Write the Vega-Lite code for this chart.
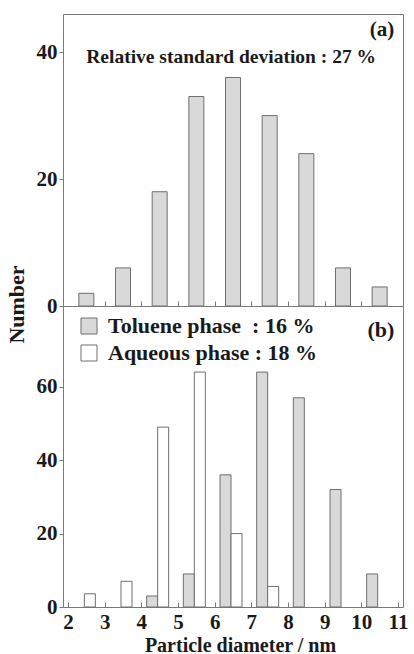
{
  "$schema": "https://vega.github.io/schema/vega-lite/v6.json",
  "background": "white",
  "padding": {"left": 4, "top": 13, "right": 0, "bottom": 0},
  "spacing": 0,
  "bounds": "flush",
  "config": {
    "font": "Liberation Serif",
    "view": {"stroke": "#7a7a7a", "strokeWidth": 1},
    "axis": {
      "labelFont": "Liberation Serif", "labelFontWeight": "bold", "labelFontSize": 21, "labelColor": "#1a1a1a",
      "titleFont": "Liberation Serif", "titleFontWeight": "bold", "titleFontSize": 21, "titleColor": "#1a1a1a",
      "domain": false, "grid": false, "tickColor": "#7a7a7a", "labelFlush": false, "labelOverlap": false
    },
    "legend": {
      "labelFont": "Liberation Serif", "labelFontWeight": "bold", "labelFontSize": 22, "labelColor": "#1a1a1a", "labelLimit": 0
    }
  },
  "vconcat": [
    {
      "width": 340,
      "height": 292,
      "encoding": {
        "x": {"field": "d", "type": "quantitative", "scale": {"domain": [2, 11], "nice": false, "zero": false},
              "axis": {"values": [3, 4, 5, 6, 7, 8, 9, 10], "labels": false, "tickSize": -5, "title": null}},
        "y": {"field": "n", "type": "quantitative", "scale": {"domain": [0, 46], "nice": false},
              "axis": {"values": [0, 20, 40], "tickSize": 4, "labelPadding": 2, "title": "Number", "titleFontSize": 22, "titleY": 290, "titlePadding": 8}}
      },
      "layer": [
        {
          "data": {"values": [
            {"d": 2.5, "n": 2}, {"d": 3.5, "n": 6}, {"d": 4.5, "n": 18}, {"d": 5.5, "n": 33},
            {"d": 6.5, "n": 36}, {"d": 7.5, "n": 30}, {"d": 8.5, "n": 24}, {"d": 9.5, "n": 6}, {"d": 10.5, "n": 3}
          ]},
          "mark": {"type": "bar", "width": 15, "fill": "#d9d9d9", "stroke": "#6f6f6f", "strokeWidth": 1}
        },
        {
          "data": {"values": [{"d": 6.45, "n": 39.3, "label": "Relative standard deviation : 27 %"}]},
          "mark": {"type": "text", "font": "Liberation Serif", "fontWeight": "bold", "fontSize": 19.5, "color": "#1a1a1a", "align": "center", "baseline": "middle"},
          "encoding": {"text": {"field": "label"}}
        },
        {
          "data": {"values": [{"d": 10.9, "n": 43.5, "label": "(a)"}]},
          "mark": {"type": "text", "font": "Liberation Serif", "fontWeight": "bold", "fontSize": 21, "color": "#1a1a1a", "align": "right", "baseline": "middle"},
          "encoding": {"text": {"field": "label"}}
        }
      ]
    },
    {
      "width": 340,
      "height": 301,
      "encoding": {
        "x": {"field": "d", "type": "quantitative", "scale": {"domain": [2, 11], "nice": false, "zero": false},
              "axis": {"values": [2, 3, 4, 5, 6, 7, 8, 9, 10, 11], "tickSize": -5, "labelPadding": 9, "labelDx": -6,
                       "labelOverlap": false, "labelFlush": false, "labelBound": false,
                       "title": "Particle diameter / nm", "titleFontSize": 20, "titleX": 177, "titlePadding": 3}},
        "y": {"field": "n", "type": "quantitative", "scale": {"domain": [0, 82], "nice": false},
              "axis": {"values": [0, 20, 40, 60], "tickSize": 4, "labelPadding": 2, "title": null}}
      },
      "layer": [
        {
          "data": {"values": [
            {"d": 4.5, "phase": "Toluene phase\u00a0\u00a0: 16 %", "n": 3},
            {"d": 5.5, "phase": "Toluene phase\u00a0\u00a0: 16 %", "n": 9},
            {"d": 6.5, "phase": "Toluene phase\u00a0\u00a0: 16 %", "n": 36},
            {"d": 7.5, "phase": "Toluene phase\u00a0\u00a0: 16 %", "n": 64},
            {"d": 8.5, "phase": "Toluene phase\u00a0\u00a0: 16 %", "n": 57},
            {"d": 9.5, "phase": "Toluene phase\u00a0\u00a0: 16 %", "n": 32},
            {"d": 10.5, "phase": "Toluene phase\u00a0\u00a0: 16 %", "n": 9}
          ]},
          "mark": {"type": "bar", "width": 11, "xOffset": -7.5, "stroke": "#6f6f6f", "strokeWidth": 1},
          "encoding": {
            "fill": {"field": "phase", "type": "nominal",
                     "scale": {"domain": ["Toluene phase\u00a0\u00a0: 16 %", "Aqueous phase : 18 %"], "range": ["#d9d9d9", "#ffffff"]},
                     "legend": {"title": null, "orient": "none", "legendX": 15, "legendY": 301, "symbolType": "square", "symbolSize": 256,
                                "symbolStrokeColor": "#6f6f6f", "symbolStrokeWidth": 1, "labelOffset": 8, "rowPadding": 5}}
          }
        },
        {
          "data": {"values": [
            {"d": 2.5, "phase": "Aqueous phase : 18 %", "n": 3.6},
            {"d": 3.5, "phase": "Aqueous phase : 18 %", "n": 7},
            {"d": 4.5, "phase": "Aqueous phase : 18 %", "n": 49},
            {"d": 5.5, "phase": "Aqueous phase : 18 %", "n": 64},
            {"d": 6.5, "phase": "Aqueous phase : 18 %", "n": 20},
            {"d": 7.5, "phase": "Aqueous phase : 18 %", "n": 5.6}
          ]},
          "mark": {"type": "bar", "width": 11, "xOffset": 3.5, "stroke": "#6f6f6f", "strokeWidth": 1},
          "encoding": {
            "fill": {"field": "phase", "type": "nominal"}
          }
        },
        {
          "data": {"values": [{"d": 10.9, "n": 75.5, "label": "(b)"}]},
          "mark": {"type": "text", "font": "Liberation Serif", "fontWeight": "bold", "fontSize": 22, "color": "#1a1a1a", "align": "right", "baseline": "middle"},
          "encoding": {"text": {"field": "label"}}
        }
      ]
    }
  ]
}
